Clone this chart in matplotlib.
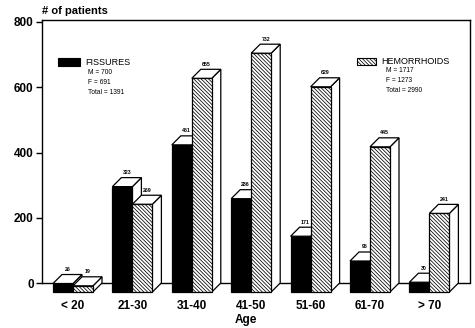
import matplotlib
matplotlib.use("Agg")
import matplotlib.pyplot as plt
from matplotlib.patches import Polygon, Rectangle

# values
age_groups = ["< 20", "21-30", "31-40", "41-50", "51-60", "61-70", "> 70"]
fissures = [26, 323, 451, 286, 171, 95, 30]
hemorrhoids = [19, 269, 655, 732, 629, 445, 241]
y_ticks = [0, 200, 400, 600, 800]

plt.rcParams["font.family"] = ["Liberation Sans", "DejaVu Sans"]
plt.rcParams["hatch.linewidth"] = 0.55
plt.rcParams["hatch.color"] = "#333333"
HATCH = "\\" * 9

W, H = 475, 328
fig = plt.figure(figsize=(W / 100, H / 100), dpi=100)

# pixel geometry of the plot box
left_px, right_px, top_px, bot_px = 42, 470, 20, 300
zero_px = 283
k = 261 / 800                     # pixels per patient
y_top = (zero_px - top_px) / k
y_bot = -(bot_px - zero_px) / k

ax = fig.add_axes([left_px / W, 1 - bot_px / H,
                   (right_px - left_px) / W, (bot_px - top_px) / H])
ax.set_xlim(0, right_px - left_px)
ax.set_ylim(y_bot, y_top)

ax.spines["bottom"].set_visible(False)
ax.spines["left"].set_bounds(0, y_top)
ax.spines["right"].set_bounds(0, y_top)
for s in ["left", "right", "top"]:
    ax.spines[s].set_linewidth(1.0)
ax.set_xticks([])
ax.set_yticks(y_ticks)
ax.set_yticklabels([str(t) for t in y_ticks], fontsize=8.5, fontweight="bold")
ax.tick_params(axis="y", direction="out", length=4, width=1, pad=2)

# floor line at zero
ax.plot([0, right_px - left_px], [0, 0], color="black", lw=1, zorder=1)

dx = 9                # depth offset in pixels (x data units are pixels)
dy = 9 / k            # depth offset in patient units
bw = 20
step = 59.4
start = 53 - left_px


def bar3d(x0, v, hatched):
    front_face = "white" if hatched else "black"
    base = -dy
    top = v - dy
    front = Rectangle((x0, base), bw, top - base, facecolor=front_face,
                      edgecolor="black", lw=0.9,
                      hatch=HATCH if hatched else None, zorder=3)
    side = Polygon([(x0 + bw, base), (x0 + bw + dx, base + dy),
                    (x0 + bw + dx, v), (x0 + bw, top)],
                   closed=True, facecolor="white", edgecolor="black", lw=0.9, zorder=3)
    lid = Polygon([(x0, top), (x0 + dx, v), (x0 + bw + dx, v), (x0 + bw, top)],
                  closed=True, facecolor="white", edgecolor="black", lw=0.9, zorder=3)
    ax.add_patch(side)
    ax.add_patch(front)
    ax.add_patch(lid)
    ax.text(x0 + bw / 2 + dx / 2, v + 8, str(v), ha="center", va="bottom",
            fontsize=3.8, fontweight="bold", zorder=4)


for i, lab in enumerate(age_groups):
    x0 = start + step * i
    bar3d(x0, fissures[i], False)
    bar3d(x0 + bw, hemorrhoids[i], True)
    ax.text(x0 + bw, y_bot - 1, lab, ha="center", va="top", fontsize=8.5,
            fontweight="bold", clip_on=False)

ax.text(246 - left_px, y_bot - 42, "Age", ha="center", va="top", fontsize=8.5,
        fontweight="bold", clip_on=False)
fig.text(left_px / W, 1 - 11 / H, "# of patients", ha="left", va="center",
         fontsize=8, fontweight="bold")


def px(x, y):
    return x - left_px, (zero_px - y) / k


# legends
ax.add_patch(Rectangle(px(58, 66), 22, 8 / k, facecolor="black", edgecolor="black",
                       lw=0.8, zorder=3))
ax.text(*px(85, 62), "FISSURES", fontsize=6.5, va="center", ha="left")
for j, line in enumerate(["M = 700", "F = 691", "Total = 1391"]):
    ax.text(*px(88, 72 + 10 * j), line, fontsize=4.8, va="center", ha="left")

ax.add_patch(Rectangle(px(357, 65), 19, 7 / k, facecolor="white", edgecolor="black",
                       lw=0.8, hatch=HATCH, zorder=3))
ax.text(*px(381, 61), "HEMORRHOIDS", fontsize=6.5, va="center", ha="left")
for j, line in enumerate(["M = 1717", "F = 1273", "Total = 2990"]):
    ax.text(*px(386, 71 + 10 * j), line, fontsize=4.8, va="center", ha="left")

fig.savefig("out.png", dpi=100)
